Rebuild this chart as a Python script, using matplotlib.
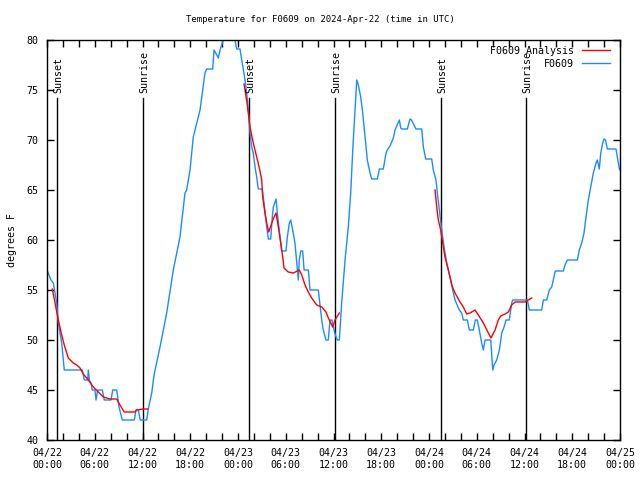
import numpy as np
import matplotlib
matplotlib.use('Agg')
import matplotlib.pyplot as plt

# Observed temperature (hours since 04/22 00:00 UTC, degrees F)
obs_hours = [0.00, 0.50, 0.79, 1.01, 1.22, 1.42, 1.85, 2.17, 4.44, 4.69, 5.11, 5.19, 5.32,
             5.53, 5.69, 6.03, 6.16, 6.37, 6.95, 7.20, 8.04, 8.26, 8.76, 9.05, 9.46, 10.97,
             11.18, 11.47, 11.72, 12.40, 12.53, 12.73, 13.16, 13.36, 13.45, 14.20, 15.04,
             15.87, 16.71, 17.34, 17.55, 17.97, 18.38, 19.23, 19.85, 20.07, 20.82, 20.99,
             21.53, 21.74, 22.15, 22.87, 23.62, 23.84, 24.25, 24.47, 24.88, 25.09, 25.30,
             25.51, 25.72, 25.92, 26.14, 26.35, 26.55, 27.05, 27.27, 27.61, 27.81, 28.11,
             28.31, 28.44, 28.78, 28.94, 29.19, 29.49, 30.03, 30.20, 30.45, 30.62, 30.87,
             31.16, 31.38, 31.58, 31.70, 31.88, 32.13, 32.30, 32.84, 33.05, 34.09, 34.31,
             34.52, 34.72, 35.06, 35.35, 35.56, 35.81, 36.06, 36.32, 36.48, 36.73, 37.03,
             37.45, 37.86, 38.16, 38.42, 38.70, 38.92, 39.12, 39.42, 39.67, 39.96, 40.25,
             40.59, 40.80, 41.51, 41.76, 42.26, 42.60, 42.76, 43.10, 43.52, 43.73, 44.27,
             44.45, 44.57, 45.28, 45.61, 45.80, 46.12, 46.37, 47.09, 47.29, 47.59, 48.34,
             48.54, 48.88, 49.05, 49.30, 49.60, 49.89, 50.23, 50.43, 50.73, 50.98, 51.27,
             51.81, 52.11, 52.31, 52.82, 53.07, 53.57, 53.82, 54.07, 54.32, 54.62, 54.83,
             55.04, 55.76, 56.01, 56.17, 56.51, 56.84, 57.14, 57.43, 57.68, 58.09, 58.39,
             58.52, 60.36, 60.61, 62.16, 62.37, 62.79, 63.12, 63.42, 63.62, 63.87, 64.88,
             65.09, 65.38, 66.64, 66.89, 67.19, 67.48, 67.73, 68.02, 68.32, 68.65, 68.99,
             69.15, 69.40, 69.58, 69.83, 69.99, 70.18, 70.41, 71.50, 71.67, 71.92, 72.00]
obs_temp = [57.0, 56.0, 55.7, 54.7, 53.7, 51.7, 49.7, 47.0, 47.0, 46.0, 46.0, 47.0, 46.0,
            45.7, 45.0, 45.0, 44.0, 45.0, 45.0, 44.0, 44.0, 45.0, 45.0, 43.3, 42.0, 42.0,
            43.0, 43.0, 42.0, 42.0, 42.0, 43.1, 44.7, 46.0, 46.5, 49.3, 52.7,
            57.0, 60.3, 64.7, 65.0, 67.0, 70.3, 73.0, 76.7, 77.1, 77.1, 79.0,
            78.2, 79.0, 80.0, 81.0, 80.0, 79.1, 79.1, 78.0, 76.0, 74.7, 73.0,
            70.7, 69.3, 68.7, 67.3, 66.3, 65.1, 65.1, 63.7, 61.3, 60.1, 60.1,
            62.3, 63.3, 64.1, 62.7, 61.0, 58.9, 58.9, 60.3, 61.7, 62.0, 61.0,
            59.7, 57.7, 56.0, 58.0, 58.9, 58.9, 57.0, 57.0, 55.0, 55.0, 53.5,
            52.0, 51.0, 50.0, 50.0, 52.0, 52.0, 51.0, 50.3, 50.0, 50.0, 53.7,
            58.0, 61.3, 64.7, 69.0, 73.0, 76.0, 75.5, 74.3, 72.7, 70.3, 68.0,
            66.7, 66.1, 66.1, 67.1, 67.1, 68.7, 69.0, 69.4, 70.2, 71.0, 72.0,
            71.2, 71.1, 71.1, 72.1, 72.0, 71.5, 71.1, 71.1, 69.3, 68.1, 68.1,
            67.0, 66.0, 64.7, 63.0, 61.0, 59.3, 57.7, 57.0, 56.0, 55.0, 54.0,
            53.0, 52.7, 52.0, 52.0, 51.0, 51.0, 52.0, 52.0, 51.0, 49.7, 49.0,
            50.0, 50.0, 47.0, 47.5, 48.0, 49.0, 50.7, 51.3, 52.0, 52.0, 53.7,
            54.0, 54.0, 53.0, 53.0, 54.0, 54.0, 55.0, 55.3, 56.0, 56.9, 56.9,
            57.5, 58.0, 58.0, 59.0, 59.7, 60.7, 62.3, 64.0, 65.3, 66.7, 67.7,
            68.0, 67.1, 68.7, 69.7, 70.1, 70.0, 69.1, 69.1, 68.3, 67.1, 67.0]

# Analysis (three night-time segments separated by gaps)
ana_hours = [0.67, 1.01, 1.42, 1.85, 2.17, 2.68, 3.30, 3.73, 4.15, 4.56, 5.19, 5.82, 6.45,
             7.07, 7.92, 8.76, 9.17, 9.71, 11.06, 11.27, 12.10, 12.65, np.nan,
             24.76, 25.17, 25.51, 25.92, 26.35, 26.68, 26.98, 27.10, 27.39, 27.61, 27.86,
             28.24, 28.53, 28.78, 29.07, 29.37, 29.62, 29.78, 30.32, 30.95, 31.70, 32.01,
             32.42, 32.84, 33.26, 33.89, 34.52, 35.06, 35.35, 35.90, 36.19, 36.73, np.nan,
             48.76, 48.97, 49.17, 49.47, 49.72, 50.01, 50.43, 50.86, 51.27, 51.90, 52.31,
             52.74, 53.15, 53.78, 54.20, 54.83, 55.46, 55.79, 56.30, 56.71, 57.01, 57.55,
             57.97, 58.39, 58.81, 60.07, 60.48, 60.91]
ana_temp = [55.1, 53.7, 52.0, 50.5, 49.5, 48.2, 47.7, 47.5, 47.2, 46.6, 46.0, 45.3, 44.8,
            44.3, 44.1, 44.1, 43.5, 42.8, 42.8, 43.0, 43.1, 43.1, np.nan,
            75.6, 73.5, 71.3, 69.7, 68.3, 67.2, 66.0, 64.3, 62.7, 61.7, 60.8,
            61.7, 62.3, 62.7, 61.3, 59.7, 58.3, 57.2, 56.8, 56.7, 57.0, 56.5,
            55.5, 54.8, 54.2, 53.5, 53.3, 52.8, 52.2, 51.3, 52.0, 52.7, np.nan,
            65.0, 63.3, 62.0, 61.0, 59.7, 58.3, 57.0, 55.5, 54.7, 53.8, 53.3,
            52.6, 52.7, 53.0, 52.5, 51.7, 50.7, 50.2, 51.0, 52.0, 52.4, 52.6,
            52.8, 53.5, 53.8, 53.8, 54.0, 54.2]

sun_hours = [1.30, 12.10, 25.42, 36.23, 49.55, 60.23]
sun_labels = ['Sunset', 'Sunrise', 'Sunset', 'Sunrise', 'Sunset', 'Sunrise']
sun_line_top = 74.2

tick_hours = list(range(0, 73, 6))
tick_labels = ['04/22\n00:00', '04/22\n06:00', '04/22\n12:00', '04/22\n18:00',
               '04/23\n00:00', '04/23\n06:00', '04/23\n12:00', '04/23\n18:00',
               '04/24\n00:00', '04/24\n06:00', '04/24\n12:00', '04/24\n18:00',
               '04/25\n00:00']
y_ticks = [40, 45, 50, 55, 60, 65, 70, 75, 80]

FONT = 'DejaVu Sans Mono'
FS = 7.2
plt.rcParams['font.family'] = FONT
plt.rcParams['font.size'] = FS

fig = plt.figure(figsize=(6.4, 4.8), dpi=100)
ax = fig.add_axes([47/640, 40/480, 573/640, 400/480])

ax.plot(ana_hours, ana_temp, color='#ff0000', lw=1.0, label='F0609 Analysis', zorder=3)
ax.plot(obs_hours, obs_temp, color='#1a8cff', lw=1.0, label='F0609', zorder=2)

for h, lab in zip(sun_hours, sun_labels):
    ax.plot([h, h], [40, sun_line_top], color='black', lw=1.0, zorder=1)
    ax.text(h + 0.15, sun_line_top + 0.5, lab, rotation=90, ha='center', va='bottom',
            fontsize=FS, family=FONT)

ax.set_xlim(0, 72)
ax.set_ylim(40, 80)
ax.set_xticks(tick_hours)
ax.set_xticklabels(tick_labels)
ax.set_xticks(list(range(0, 73, 2)), minor=True)
ax.set_yticks(y_ticks)
ax.tick_params(axis='both', which='both', direction='in', top=True, right=True,
               length=5, width=1, labelsize=FS)
ax.tick_params(axis='x', which='major', pad=6)
ax.tick_params(axis='y', which='major', pad=6)
for s in ax.spines.values():
    s.set_linewidth(1.0)

ax.set_ylabel('degrees F', fontsize=FS, labelpad=7)

leg = ax.legend(loc='upper right', bbox_to_anchor=(0.983, 0.985), frameon=False,
                markerfirst=False, handlelength=2.8, fontsize=FS, borderaxespad=0.0,
                labelspacing=0.3, handletextpad=0.8, borderpad=0.0)

fig.text(0.5, 1 - 19/480, 'Temperature for F0609 on 2024-Apr-22 (time in UTC)',
         ha='center', va='center', fontsize=6.5, family=FONT)

fig.savefig('out.png', dpi=100)
